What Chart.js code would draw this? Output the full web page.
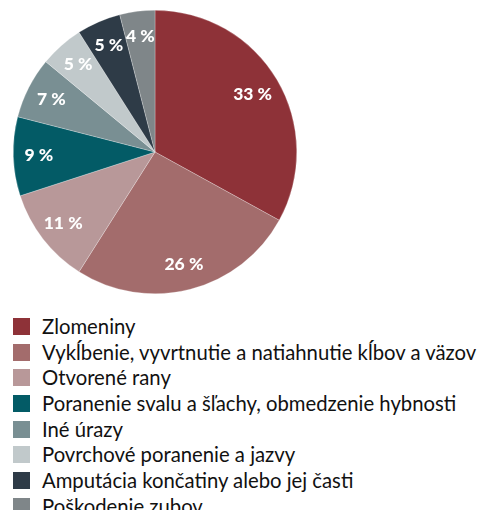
<!DOCTYPE html>
<html>
<head>
<meta charset="utf-8">
<script src="https://cdn.jsdelivr.net/npm/chart.js@4.4.0/dist/chart.umd.min.js"></script>
<style>
  html, body { margin: 0; padding: 0; background: #fff; }
  body { width: 478px; height: 510px; position: relative; overflow: hidden; font-family: Lato, 'Noto Sans', sans-serif; }
  #chartWrap { position: absolute; left: 0; top: 0; width: 310px; height: 304px; }
  #legend { position: absolute; left: 13px; top: 318px; margin: 0; padding: 0; list-style: none; }
  #legend li { height: 25.67px; position: relative; white-space: nowrap; }
  #legend .box { position: absolute; left: 0; top: 0; width: 17px; height: 17px; }
  #legend .txt { position: absolute; left: 29px; top: -5px; font-size: 20.3px; line-height: 26px; color: #111; }
</style>
</head>
<body>
<div id="chartWrap"><canvas id="pieChart"></canvas></div>
<ul id="legend"></ul>

<script>
// Data
const categories = [
  'Zlomeniny',
  'Vykĺbenie, vyvrtnutie a natiahnutie kĺbov a väzov',
  'Otvorené rany',
  'Poranenie svalu a šľachy, obmedzenie hybnosti',
  'Iné úrazy',
  'Povrchové poranenie a jazvy',
  'Amputácia končatiny alebo jej časti',
  'Poškodenie zubov'
];
const shares = [33, 26, 11, 9, 7, 5, 5, 4];
const sliceColors = ['#8e3238', '#a36c6c', '#b89899', '#035b66', '#798f93', '#c1c9cb', '#2e3b47', '#7f8689'];

// Percent labels inside slices
const sliceLabels = {
  id: 'sliceLabels',
  afterDatasetsDraw(chart) {
    const ctx = chart.ctx;
    const meta = chart.getDatasetMeta(0);
    ctx.save();
    ctx.fillStyle = '#fff';
    ctx.font = '900 17.5px Lato, "Noto Sans", sans-serif';
    ctx.textAlign = 'center';
    ctx.textBaseline = 'middle';
    meta.data.forEach((arc, i) => {
      const mid = (arc.startAngle + arc.endAngle) / 2;
      const r = arc.outerRadius * (i === 0 ? 0.8 : 0.82);
      const x = arc.x + Math.cos(mid) * r;
      const y = arc.y + Math.sin(mid) * r;
      ctx.fillText(shares[i] + ' %', x, y);
    });
    ctx.restore();
  }
};

new Chart(document.getElementById('pieChart'), {
  type: 'pie',
  data: {
    labels: categories,
    datasets: [{
      data: shares,
      backgroundColor: sliceColors,
      borderColor: 'rgba(255,255,255,0.5)',
      borderWidth: 0.5
    }]
  },
  options: {
    responsive: true,
    maintainAspectRatio: false,
    animation: false,
    layout: { padding: { left: 13, right: 13, top: 10, bottom: 10 } },
    plugins: {
      legend: { display: false },
      tooltip: { enabled: false }
    }
  },
  plugins: [sliceLabels]
});

// Legend
const legendEl = document.getElementById('legend');
categories.forEach((name, i) => {
  const li = document.createElement('li');
  li.innerHTML = `<span class="box" style="background:${sliceColors[i]}"></span><span class="txt">${name}</span>`;
  legendEl.appendChild(li);
});
</script>
</body>
</html>
